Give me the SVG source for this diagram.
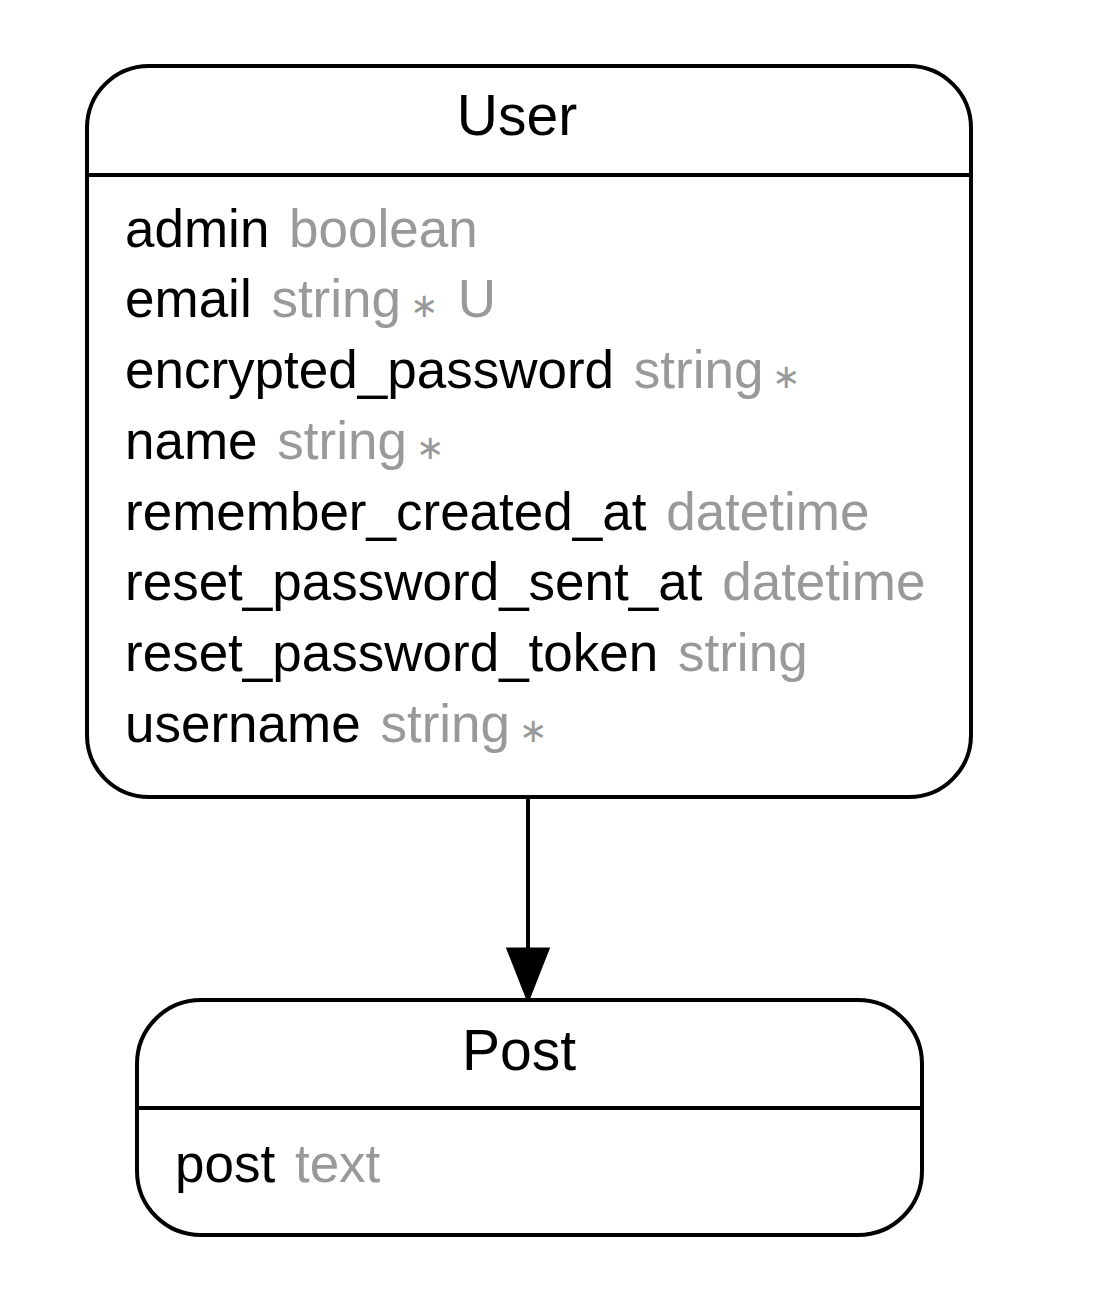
<svg xmlns="http://www.w3.org/2000/svg" width="1094" height="1304" viewBox="0 0 1094 1304">
<style>
.box{fill:#fff;stroke:#000;stroke-width:4}
.div{stroke:#000;stroke-width:4}
.title{font-family:"Liberation Sans",Arial,sans-serif;font-size:57px;fill:#000;text-anchor:middle}
.attr{font-family:"Liberation Sans",Arial,sans-serif;font-size:53px;fill:#000;word-spacing:5px}
.t{fill:#999999}
.star{font-size:34px;fill:#999999}
.edge{stroke:#000;stroke-width:4;fill:none}
.head{fill:#000;stroke:#000;stroke-width:3}
</style>
<rect width="1094" height="1304" fill="#fff"/>
<g id="connectors">
<line class="edge" x1="528" y1="797" x2="528" y2="950"/>
<polygon class="head" points="508,949 548,949 528,1000"/>
</g>
<g id="node-user">
<rect class="box" x="87" y="66" width="884" height="731" rx="62" ry="62"/>
<line class="div" x1="87" y1="175" x2="971" y2="175"/>
<text class="title" x="517" y="135">User</text>
<text class="attr" x="125" y="247">admin <tspan class="t">boolean</tspan></text>
<text class="attr" x="125" y="317">email <tspan class="t">string</tspan><tspan class="star" dx="9">∗</tspan><tspan class="t"> U</tspan></text>
<text class="attr" x="125" y="388">encrypted_password <tspan class="t">string</tspan><tspan class="star" dx="9">∗</tspan></text>
<text class="attr" x="125" y="459">name <tspan class="t">string</tspan><tspan class="star" dx="9">∗</tspan></text>
<text class="attr" x="125" y="530">remember_created_at <tspan class="t">datetime</tspan></text>
<text class="attr" x="125" y="600">reset_password_sent_at <tspan class="t">datetime</tspan></text>
<text class="attr" x="125" y="671">reset_password_token <tspan class="t">string</tspan></text>
<text class="attr" x="125" y="742">username <tspan class="t">string</tspan><tspan class="star" dx="9">∗</tspan></text>
</g>
<g id="node-post">
<rect class="box" x="137" y="1000" width="785" height="235" rx="64" ry="64"/>
<line class="div" x1="137" y1="1108" x2="922" y2="1108"/>
<text class="title" x="519" y="1070">Post</text>
<text class="attr" x="175" y="1182">post <tspan class="t">text</tspan></text>
</g>
</svg>
